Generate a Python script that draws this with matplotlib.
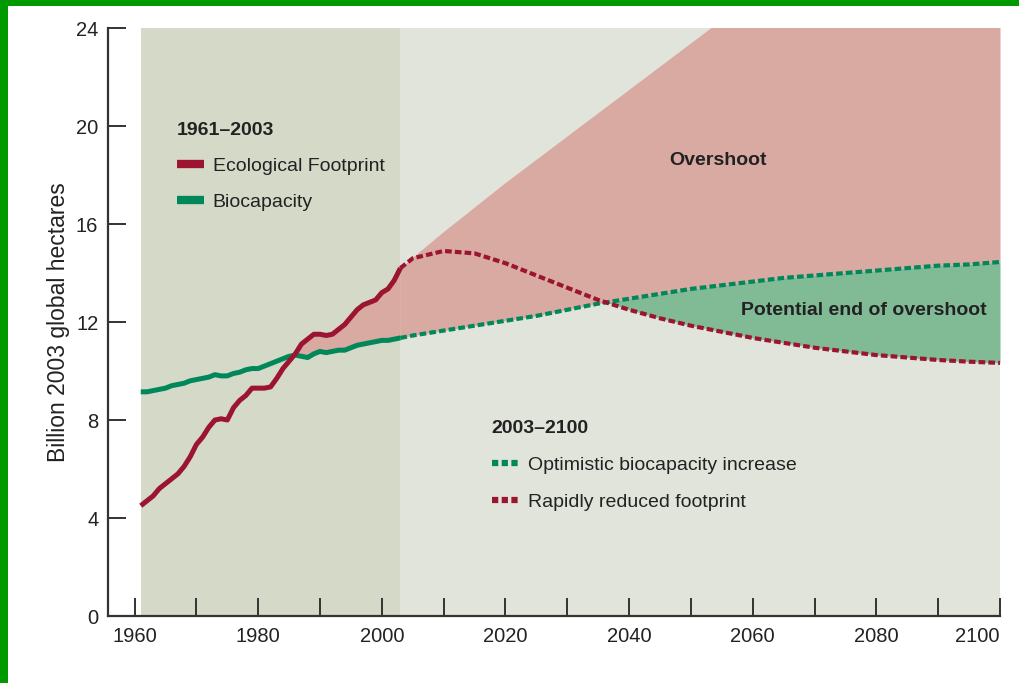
import matplotlib
matplotlib.use("Agg")
import matplotlib.pyplot as plt
from matplotlib import font_manager
from matplotlib.lines import Line2D
from matplotlib.patches import Rectangle
import numpy as np

# --- data (billion 2003 global hectares) ---
hist_years = list(range(1961, 2004))
footprint = [4.5, 4.7, 4.9, 5.2, 5.4, 5.6, 5.8, 6.1, 6.5, 7.0,
             7.3, 7.7, 8.0, 8.05, 8.0, 8.5, 8.8, 9.0, 9.3, 9.3,
             9.3, 9.35, 9.7, 10.1, 10.4, 10.7, 11.1, 11.3, 11.5, 11.5,
             11.45, 11.5, 11.7, 11.9, 12.2, 12.5, 12.7, 12.8, 12.9, 13.2,
             13.35, 13.7, 14.2]
biocapacity = [9.15, 9.15, 9.2, 9.25, 9.3, 9.4, 9.45, 9.5, 9.6, 9.65,
               9.7, 9.75, 9.85, 9.8, 9.8, 9.9, 9.95, 10.05, 10.1, 10.1,
               10.2, 10.3, 10.4, 10.5, 10.6, 10.65, 10.6, 10.55, 10.7, 10.8,
               10.75, 10.8, 10.85, 10.85, 10.95, 11.05, 11.1, 11.15, 11.2, 11.25,
               11.25, 11.3, 11.35]

fut_years = [2003, 2005, 2010, 2015, 2020, 2025, 2030, 2035, 2040, 2045, 2050,
             2055, 2060, 2065, 2070, 2075, 2080, 2085, 2090, 2095, 2100]
bio_optimistic = [11.35, 11.45, 11.65, 11.85, 12.05, 12.25, 12.5, 12.75, 12.95, 13.15, 13.35,
                  13.5, 13.65, 13.8, 13.9, 14.0, 14.1, 14.2, 14.3, 14.35, 14.45]
fp_reduced = [14.2, 14.6, 14.9, 14.8, 14.4, 13.9, 13.4, 12.9, 12.5, 12.15, 11.85,
              11.6, 11.35, 11.15, 10.95, 10.8, 10.65, 10.55, 10.45, 10.38, 10.33]
fp_business = [14.2, 14.65, 15.7, 16.7, 17.7, 18.65, 19.6, 20.55, 21.5, 22.45, 23.4,
               24.35, 25.3, 26.2, 27.1, 28.0, 28.9, 29.8, 30.6, 31.4, 32.2]

x_ticks = list(range(1960, 2101, 10))
x_labels = ["1960", "", "1980", "", "2000", "", "2020", "", "2040", "", "2060", "", "2080", "", "2100"]
y_ticks = [0, 4, 8, 12, 16, 20, 24]

RED = "#9c1530"
GREEN = "#00885a"
PINK = "#d9aaa1"
MINT = "#80bb95"
SHADE_OLD = "#d5d9c8"
SHADE_NEW = "#e1e4da"
INK = "#222222"

names = {f.name for f in font_manager.fontManager.ttflist}
if "Liberation Sans Narrow" in names:
    plt.rcParams["font.family"] = ["Liberation Sans Narrow", "DejaVu Sans"]
else:
    plt.rcParams["font.family"] = ["Liberation Sans", "DejaVu Sans"]

fig = plt.figure(figsize=(10.2, 6.83), dpi=100)
fig.patch.set_facecolor("white")
ax = fig.add_axes([108 / 1020, 67 / 683, 892 / 1020, 588 / 683])

hy = np.array(hist_years)
fp = np.array(footprint)
bc = np.array(biocapacity)
fy = np.array(fut_years)
bo = np.array(bio_optimistic)
fr = np.array(fp_reduced)
fb = np.array(fp_business)

ax.axvspan(1961, 2003, color=SHADE_OLD, lw=0, zorder=0)
ax.axvspan(2003, 2100, color=SHADE_NEW, lw=0, zorder=0)

# overshoot areas
ax.fill_between(hy, bc, fp, where=fp >= bc, interpolate=True, color=PINK, lw=0, zorder=1)
ax.fill_between(fy, bo, fb, color=PINK, lw=0, zorder=1)
ax.fill_between(fy, fr, bo, where=bo >= fr, interpolate=True, color=MINT, lw=0, zorder=1)

ax.plot(hy, bc, color=GREEN, lw=3.6, solid_capstyle="butt", zorder=3)
ax.plot(hy, fp, color=RED, lw=3.6, solid_capstyle="butt", zorder=4)
ax.plot(fy, bo, color=GREEN, lw=3.0, dashes=(1.6, 0.75), zorder=3)
ax.plot(fy, fr, color=RED, lw=3.0, dashes=(1.6, 0.75), zorder=4)

ax.text(2054.4, 18.6, "Overshoot", fontsize=14, fontweight="bold", color=INK,
        ha="center", va="center", zorder=5)
ax.text(2078.0, 12.45, "Potential end of overshoot", fontsize=14, fontweight="bold",
        color=INK, ha="center", va="center", zorder=5)

# legends
h1 = [Line2D([], [], color=RED, lw=6, solid_capstyle="butt"),
      Line2D([], [], color=GREEN, lw=6, solid_capstyle="butt")]
leg1 = ax.legend(h1, ["Ecological Footprint", "Biocapacity"], title="1961–2003",
                 loc="upper left", bbox_to_anchor=(0.077, 0.840), frameon=False,
                 fontsize=14, title_fontproperties={"size": 14, "weight": "bold"},
                 alignment="left", handlelength=1.4, handletextpad=0.45,
                 labelspacing=0.95, borderpad=0, borderaxespad=0)
for t in leg1.get_texts():
    t.set_color(INK)
leg1.get_title().set_color(INK)
ax.add_artist(leg1)

h2 = [Line2D([], [], color=GREEN, lw=4.5, dashes=(1.0, 0.55)),
      Line2D([], [], color=RED, lw=4.5, dashes=(1.0, 0.55))]
leg2 = ax.legend(h2, ["Optimistic biocapacity increase", "Rapidly reduced footprint"],
                 title="2003–2100", loc="upper left", bbox_to_anchor=(0.430, 0.334),
                 frameon=False, fontsize=14,
                 title_fontproperties={"size": 14, "weight": "bold"},
                 alignment="left", handlelength=1.4, handletextpad=0.45,
                 labelspacing=1.0, borderpad=0, borderaxespad=0)
for t in leg2.get_texts():
    t.set_color(INK)
leg2.get_title().set_color(INK)

# axes styling
ax.set_xlim(1955.7, 2100)
ax.set_ylim(0, 24)
ax.set_facecolor("white")
for s in ["top", "right"]:
    ax.spines[s].set_visible(False)
for s in ["left", "bottom"]:
    ax.spines[s].set_linewidth(1.6)
    ax.spines[s].set_color("#333333")

ax.set_xticks(x_ticks)
ax.set_xticklabels(x_labels)
ax.get_xticklabels()[-1].set_ha("right")
ax.set_yticks(y_ticks)
ax.tick_params(axis="both", direction="in", length=13, width=1.4, color="#333333",
               labelsize=14.5, labelcolor=INK)
ax.tick_params(axis="x", pad=8)
ax.tick_params(axis="y", pad=7)
ax.set_ylabel("Billion 2003 global hectares", fontsize=16.5, color=INK, labelpad=4)

# green frame of the original screenshot
fig.patches.append(Rectangle((0, 0), 8 / 1020, 1, transform=fig.transFigure,
                             color="#009900", lw=0))
fig.patches.append(Rectangle((0, 1 - 6 / 683), 1, 6 / 683, transform=fig.transFigure,
                             color="#009900", lw=0))

fig.savefig("out.png", dpi=100, facecolor="white")
